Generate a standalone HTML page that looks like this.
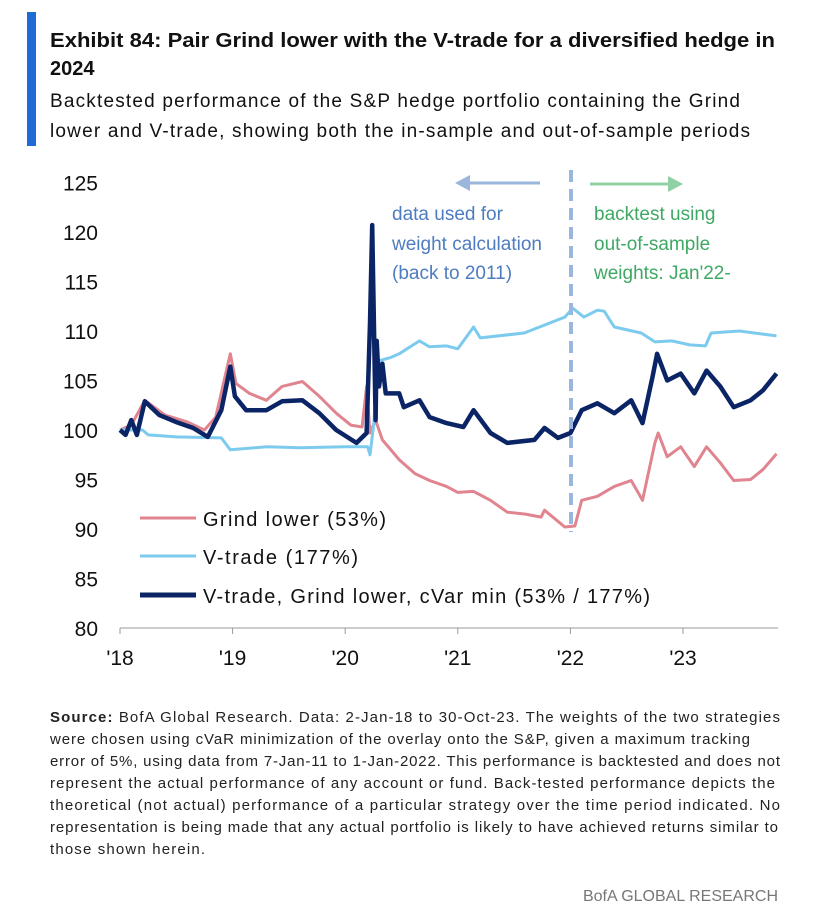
<!DOCTYPE html>
<html><head><meta charset="utf-8"><style>
body{margin:0;background:#fff;width:825px;height:920px;overflow:hidden;font-family:"Liberation Sans",sans-serif;}
</style></head><body>
<svg width="825" height="920" style="position:absolute;left:0;top:0">
<rect x="27" y="12" width="9" height="134" fill="#1e6bd6"/>
<text x="50" y="47" font-size="20" font-weight="bold" fill="#111" textLength="725" lengthAdjust="spacingAndGlyphs">Exhibit 84: Pair Grind lower with the V-trade for a diversified hedge in</text>
<text x="50" y="75" font-size="20" font-weight="bold" fill="#111">2024</text>
<text x="50" y="107" font-size="19" fill="#111" textLength="690">Backtested performance of the S&amp;P hedge portfolio containing the Grind</text>
<text x="50" y="137" font-size="19" fill="#111" textLength="700">lower and V-trade, showing both the in-sample and out-of-sample periods</text>
<g id="axes"></g>
<g id="series"></g>
<line x1="571" y1="170" x2="571" y2="532" stroke="#9ab6dc" stroke-width="4" stroke-dasharray="12,7"/>
<line x1="540" y1="183" x2="465" y2="183" stroke="#9ab6dc" stroke-width="3"/>
<polygon points="455,183 470,175 470,191" fill="#9ab6dc"/>
<line x1="590" y1="184" x2="668" y2="184" stroke="#8fd1a3" stroke-width="3"/>
<polygon points="683,184 668,176 668,192" fill="#8fd1a3"/>
<g font-size="19" fill="#4d7cc0">
<text x="392" y="220">data used for</text><text x="392" y="250">weight calculation</text><text x="392" y="279">(back to 2011)</text></g>
<g font-size="19" fill="#3fa864">
<text x="594" y="220">backtest using</text><text x="594" y="250">out-of-sample</text><text x="594" y="279">weights: Jan'22-</text></g>
<g font-size="20" fill="#111">
<line x1="140" y1="518" x2="196" y2="518" stroke="#e0848f" stroke-width="3"/>
<text x="203" y="526" textLength="183">Grind lower (53%)</text>
<line x1="140" y1="556" x2="196" y2="556" stroke="#7ccbee" stroke-width="3"/>
<text x="203" y="564" textLength="155">V-trade (177%)</text>
<line x1="140" y1="595" x2="196" y2="595" stroke="#0b2466" stroke-width="5"/>
<text x="203" y="603" textLength="447">V-trade, Grind lower, cVar min (53% / 177%)</text>
</g>
<g font-size="15" fill="#222">
<text x="50" y="722" textLength="730"><tspan font-weight="bold">Source:</tspan> BofA Global Research. Data: 2-Jan-18 to 30-Oct-23. The weights of the two strategies</text>
<text x="50" y="744" textLength="700">were chosen using cVaR minimization of the overlay onto the S&amp;P, given a maximum tracking</text>
<text x="50" y="766" textLength="730">error of 5%, using data from 7-Jan-11 to 1-Jan-2022. This performance is backtested and does not</text>
<text x="50" y="788" textLength="725">represent the actual performance of any account or fund. Back-tested performance depicts the</text>
<text x="50" y="810" textLength="730">theoretical (not actual) performance of a particular strategy over the time period indicated. No</text>
<text x="50" y="832" textLength="728">representation is being made that any actual portfolio is likely to have achieved returns similar to</text>
<text x="50" y="854" textLength="155">those shown herein.</text>
</g>
<text x="778" y="901" font-size="16" fill="#777" text-anchor="end">BofA GLOBAL RESEARCH</text>
</svg>
<script>
const yTicks=[80,85,90,95,100,105,110,115,120,125];
const xTickYears=[2018,2019,2020,2021,2022,2023];
const xTickLabels=["'18","'19","'20","'21","'22","'23"];
const grindT=[2018,2018.1,2018.22,2018.4,2018.6,2018.75,2018.85,2018.98,2019.03,2019.15,2019.3,2019.44,2019.62,2019.77,2019.92,2020.05,2020.15,2020.19,2020.22,2020.27,2020.33,2020.48,2020.62,2020.75,2020.9,2021.0,2021.14,2021.29,2021.44,2021.6,2021.74,2021.77,2021.95,2022.04,2022.1,2022.24,2022.39,2022.54,2022.64,2022.75,2022.78,2022.86,2022.98,2023.1,2023.21,2023.33,2023.45,2023.6,2023.71,2023.83];
const grindV=[100,100.5,103,101.5,100.8,100,101.3,107.7,104.7,103.7,103,104.4,104.9,103.4,101.7,100.5,100.3,104.4,99.7,101,99,97,95.6,94.9,94.3,93.7,93.8,92.9,91.7,91.5,91.2,91.9,90.2,90.3,92.9,93.3,94.3,94.9,92.9,98.7,99.7,97.3,98.3,96.3,98.3,96.7,94.9,95,96,97.6];
const vT=[2018,2018.2,2018.25,2018.5,2018.9,2018.98,2019.3,2019.6,2020.0,2020.2,2020.22,2020.25,2020.3,2020.4,2020.48,2020.66,2020.75,2020.9,2021.0,2021.14,2021.2,2021.59,2021.95,2022.02,2022.12,2022.24,2022.3,2022.39,2022.63,2022.75,2022.9,2023.06,2023.2,2023.25,2023.5,2023.83];
const vV=[100,100,99.5,99.3,99.2,98,98.3,98.2,98.3,98.3,97.5,100.3,107,107.3,107.7,109,108.4,108.5,108.2,110.4,109.3,109.8,111.4,112.3,111.4,112.1,112,110.4,109.8,108.9,109,108.6,108.5,109.8,110,109.5];
const cT=[2018,2018.05,2018.1,2018.15,2018.22,2018.35,2018.5,2018.65,2018.78,2018.9,2018.98,2019.02,2019.12,2019.3,2019.44,2019.62,2019.77,2019.92,2020.1,2020.19,2020.22,2020.24,2020.27,2020.28,2020.3,2020.33,2020.36,2020.48,2020.52,2020.66,2020.75,2020.9,2021.05,2021.14,2021.29,2021.44,2021.68,2021.77,2021.89,2022.0,2022.1,2022.24,2022.39,2022.54,2022.64,2022.73,2022.77,2022.86,2022.98,2023.1,2023.21,2023.33,2023.45,2023.6,2023.71,2023.83];
const cV=[100,99.5,101,99.5,102.9,101.5,100.8,100.2,99.3,102,106.4,103.4,102,102,102.9,103,101.7,100,98.7,99.7,110.8,120.7,101,109,104.4,106.7,103.7,103.7,102.3,103,101.3,100.7,100.3,102,99.7,98.7,99,100.2,99.2,99.7,102,102.7,101.7,103,100.7,105.4,107.7,105,105.7,103.7,106,104.4,102.3,103,104,105.7];
const NS="http://www.w3.org/2000/svg";
function xs(t){return 120+(t-2018)*112.6;}
function ys(v){return 430-(v-100)*9.9;}
const axes=document.getElementById('axes');
yTicks.forEach(v=>{const t=document.createElementNS(NS,'text');
t.setAttribute('x',98);t.setAttribute('y',ys(v)+8);t.setAttribute('text-anchor','end');t.setAttribute('font-size','21');t.setAttribute('fill','#111');t.textContent=v;


axes.appendChild(t);});
xTickYears.forEach((yr,i)=>{const t=document.createElementNS(NS,'text');
t.setAttribute('x',xs(yr));t.setAttribute('y',665);t.setAttribute('text-anchor','middle');t.setAttribute('font-size','21');t.setAttribute('fill','#111');t.textContent=xTickLabels[i];


axes.appendChild(t);
const l=document.createElementNS(NS,'line');l.setAttribute('x1',xs(yr));l.setAttribute('x2',xs(yr));l.setAttribute('y1',628);l.setAttribute('y2',634);l.setAttribute('stroke','#999');


axes.appendChild(l);});
const ax=document.createElementNS(NS,'line');ax.setAttribute('x1',120);ax.setAttribute('x2',778);ax.setAttribute('y1',628);ax.setAttribute('y2',628);ax.setAttribute('stroke','#999');


axes.appendChild(ax);
const sg=document.getElementById('series');
function line(T,V,color,w,name){const p=document.createElementNS(NS,'polyline');
p.setAttribute('points',T.map((t,i)=>xs(t).toFixed(1)+','+ys(V[i]).toFixed(1)).join(' '));
p.setAttribute('fill','none');p.setAttribute('stroke',color);p.setAttribute('stroke-width',w);p.setAttribute('stroke-linejoin','round');


sg.appendChild(p);}
line(grindT,grindV,'#e0848f',3,'grind-lower-line');
line(vT,vV,'#7ccbee',3,'v-trade-line');
line(cT,cV,'#0b2466',4.5,'cvar-min-line');
</script>
</body></html>
